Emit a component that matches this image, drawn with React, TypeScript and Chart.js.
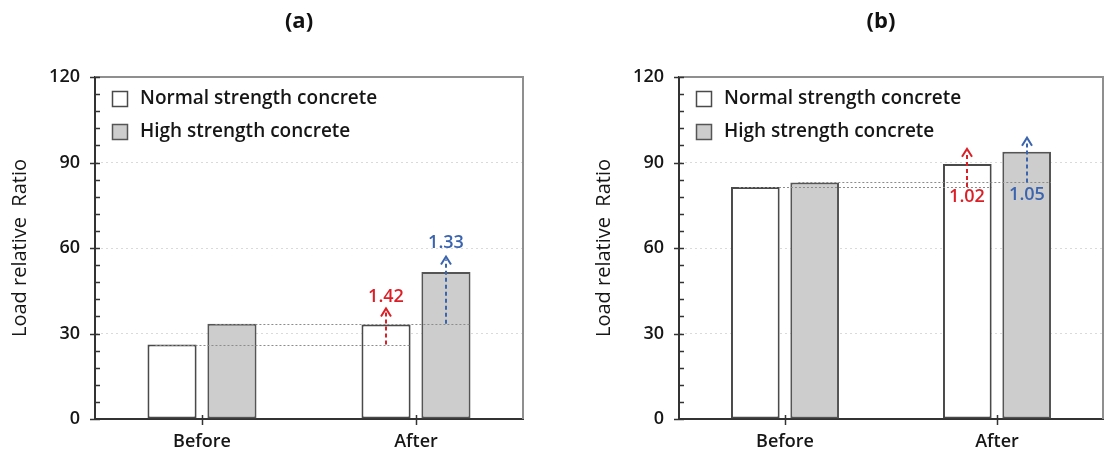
import React, { useEffect, useRef } from 'react';
import { Chart, registerables } from 'chart.js';

Chart.register(...registerables);

// ---- data ----
const categories = ['Before', 'After'];
const seriesNames = ['Normal strength concrete', 'High strength concrete'];
const normalA = [26.1, 33.2];
const highA = [33.4, 51.6];
const normalB = [81.4, 89.5];
const highB = [83.0, 93.8];
const ratioLabelsA = ['1.42', '1.33'];
const arrowTopsA = [38.8, 57.0];
const labelValuesA = [42.7, 61.9];
const ratioLabelsB = ['1.02', '1.05'];
const arrowTopsB = [94.8, 98.7];
const labelValuesB = [78.0, 78.7];
const yMax = 120;
const yMajorStep = 30;
const yMinorStep = 6;
const axisTitle = 'Load relative  Ratio';

const FONT = "'Open Sans', 'Noto Sans', sans-serif";
const barFills = ['#ffffff', '#cdcdcd'];
const barBorders = ['#4a4a4a', '#555555'];
const arrowColors = ['#dc1f26', '#3b64ae'];

const decor = {
  id: 'decor',
  afterDatasetsDraw(chart: any, _args: any, opts: any) {
    const { ctx, scales } = chart;
    const y = scales.y;
    const metas = [chart.getDatasetMeta(0), chart.getDatasetMeta(1)];
    ctx.save();
    metas.forEach((meta: any, d: number) => {
      const before = meta.data[0];
      const after = meta.data[1];
      const vals = chart.data.datasets[d].data as number[];
      const yy = Math.round(y.getPixelForValue(vals[0])) + 0.5;
      ctx.strokeStyle = '#8c8c8c';
      ctx.lineWidth = 1;
      ctx.setLineDash([2, 2]);
      ctx.beginPath();
      ctx.moveTo(before.x - before.width / 2 + 8, yy);
      ctx.lineTo(after.x + after.width / 2, yy);
      ctx.stroke();
    });
    metas.forEach((meta: any, d: number) => {
      const after = meta.data[1];
      const vals = chart.data.datasets[d].data as number[];
      const x = Math.round(after.x);
      const y0 = y.getPixelForValue(vals[0]);
      const y1 = y.getPixelForValue(opts.arrowTops[d]);
      ctx.strokeStyle = arrowColors[d];
      ctx.fillStyle = arrowColors[d];
      ctx.lineWidth = 2;
      ctx.setLineDash([4, 3]);
      ctx.beginPath();
      ctx.moveTo(x, y0);
      ctx.lineTo(x, y1 + 3);
      ctx.stroke();
      ctx.setLineDash([]);
      ctx.beginPath();
      ctx.moveTo(x - 5, y1 + 8);
      ctx.lineTo(x, y1);
      ctx.lineTo(x + 5, y1 + 8);
      ctx.stroke();
      ctx.font = `600 18px ${FONT}`;
      ctx.textAlign = 'center';
      ctx.textBaseline = 'middle';
      ctx.fillText(opts.labels[d], x, y.getPixelForValue(opts.labelValues[d]));
    });
    ctx.restore();
  },
  afterDraw(chart: any, _args: any, opts: any) {
    const { ctx, chartArea: ca, scales } = chart;
    const x = scales.x;
    const y = scales.y;
    ctx.save();
    ctx.strokeStyle = '#8f8f8f';
    ctx.lineWidth = 2;
    ctx.beginPath();
    ctx.moveTo(ca.left, ca.top);
    ctx.lineTo(ca.right, ca.top);
    ctx.lineTo(ca.right, ca.bottom);
    ctx.stroke();
    ctx.strokeStyle = '#333';
    ctx.lineWidth = 1.5;
    for (let v = 0; v <= yMax; v += yMinorStep) {
      const py = Math.round(y.getPixelForValue(v)) + 0.5;
      const major = v % yMajorStep === 0;
      ctx.beginPath();
      ctx.moveTo(ca.left - (major ? 5 : 0), py);
      ctx.lineTo(ca.left + 5, py);
      ctx.stroke();
    }
    categories.forEach((_c, i) => {
      const px = Math.round(x.getPixelForValue(i)) + 0.5;
      ctx.beginPath();
      ctx.moveTo(px, ca.bottom - 4);
      ctx.lineTo(px, ca.bottom + 6);
      ctx.stroke();
    });
    chart.data.datasets.forEach((ds: any, d: number) => {
      const bx = ca.left + 17;
      const by = ca.top + 14 + d * 33;
      ctx.fillStyle = ds.backgroundColor;
      ctx.fillRect(bx, by, 16, 16);
      ctx.strokeStyle = ds.borderColor;
      ctx.lineWidth = 1.5;
      ctx.strokeRect(bx + 0.5, by + 0.5, 15, 15);
      ctx.fillStyle = '#161616';
      ctx.font = `600 19px ${FONT}`;
      ctx.textAlign = 'left';
      ctx.textBaseline = 'middle';
      ctx.fillText(ds.label, bx + 28, by + 8);
    });
    ctx.fillStyle = '#111';
    ctx.font = `bold 22px ${FONT}`;
    ctx.textAlign = 'center';
    ctx.textBaseline = 'middle';
    ctx.fillText(opts.title, (ca.left + ca.right) / 2 - 10, 22);
    ctx.restore();
  },
};

type PanelProps = {
  title: string;
  normal: number[];
  high: number[];
  labels: string[];
  arrowTops: number[];
  labelValues: number[];
  width: number;
  padLeft: number;
  padRight: number;
};

function Panel(p: PanelProps) {
  const ref = useRef<HTMLCanvasElement>(null);
  useEffect(() => {
    if (!ref.current) return;
    const chart = new Chart(ref.current, {
      type: 'bar',
      data: {
        labels: categories,
        datasets: [
          {
            label: seriesNames[0],
            data: p.normal,
            backgroundColor: barFills[0],
            borderColor: barBorders[0],
            borderWidth: 2,
            borderSkipped: false,
            categoryPercentage: 0.56,
            barPercentage: 0.82,
          },
          {
            label: seriesNames[1],
            data: p.high,
            backgroundColor: barFills[1],
            borderColor: barBorders[1],
            borderWidth: 2,
            borderSkipped: false,
            categoryPercentage: 0.56,
            barPercentage: 0.82,
          },
        ],
      },
      options: {
        responsive: false,
        animation: false,
        layout: { padding: { top: 77, left: p.padLeft, right: p.padRight, bottom: 0 } },
        plugins: {
          legend: { display: false },
          tooltip: { enabled: false },
          title: { display: false },
          decor: {
            title: p.title,
            labels: p.labels,
            arrowTops: p.arrowTops,
            labelValues: p.labelValues,
          },
        } as any,
        scales: {
          x: {
            type: 'category',
            offset: true,
            grid: { display: false, drawTicks: false },
            border: { display: true, color: '#333', width: 2 },
            ticks: {
              padding: 12,
              color: '#161616',
              font: { family: FONT, size: 18, weight: 600 as any },
              maxRotation: 0,
            },
            afterFit: (s: any) => {
              s.height = 41;
            },
          },
          y: {
            min: 0,
            max: yMax,
            ticks: {
              stepSize: yMinorStep,
              autoSkip: false,
              padding: 15,
              color: '#161616',
              font: { family: FONT, size: 18, weight: 600 as any },
              callback: (v: any) => (Number(v) % yMajorStep === 0 ? String(v) : ''),
            },
            grid: {
              drawTicks: false,
              lineWidth: 1,
              color: (c: any) => {
                const v = c.tick ? c.tick.value : -1;
                return v > 0 && v < yMax && v % yMajorStep === 0 ? '#dadada' : 'rgba(0,0,0,0)';
              },
            },
            border: { display: true, color: '#333', width: 2, dash: [2, 3] },
            title: {
              display: true,
              text: axisTitle,
              color: '#161616',
              font: { family: FONT, size: 20, weight: 500 as any },
              padding: { top: 8, bottom: 0 },
            },
            afterFit: (s: any) => {
              s.width = 95;
            },
          },
        },
      },
      plugins: [decor as any],
    });
    return () => chart.destroy();
  }, []);
  return <canvas ref={ref} width={p.width} height={460} style={{ display: 'block', width: p.width, height: 460 }} />;
}

export default function App() {
  return (
    <div
      style={{
        position: 'fixed',
        left: 0,
        top: 0,
        width: 1105,
        height: 460,
        display: 'flex',
        background: '#ffffff',
      }}
    >
      <Panel
        title="(a)"
        normal={normalA}
        high={highA}
        labels={ratioLabelsA}
        arrowTops={arrowTopsA}
        labelValues={labelValuesA}
        width={552}
        padLeft={0}
        padRight={29}
      />
      <Panel
        title="(b)"
        normal={normalB}
        high={highB}
        labels={ratioLabelsB}
        arrowTops={arrowTopsB}
        labelValues={labelValuesB}
        width={553}
        padLeft={32}
        padRight={2}
      />
    </div>
  );
}
